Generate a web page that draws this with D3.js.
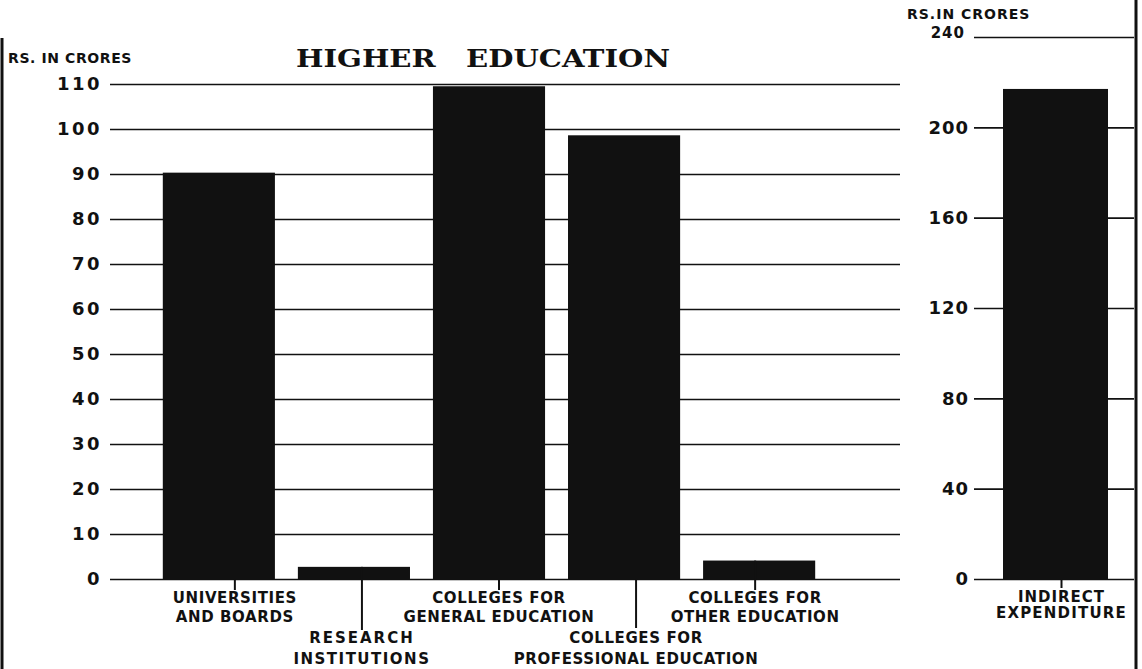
<!DOCTYPE html>
<html>
<head>
<meta charset="utf-8">
<script src="https://cdn.jsdelivr.net/npm/d3@7"></script>
<style>
  body { margin: 0; background: #fff; }
  svg { display: block; }
  .lbl { font-family: "DejaVu Sans", sans-serif; font-weight: bold; font-size: 15px; letter-spacing: 0.6px; fill: #111; }
</style>
</head>
<body>
<svg width="1142" height="669"></svg>
<script>
// left panel data (Rs. in crores)
var categories = [
    ['UNIVERSITIES', 'AND BOARDS'],
    ['RESEARCH', 'INSTITUTIONS'],
    ['COLLEGES FOR', 'GENERAL EDUCATION'],
    ['COLLEGES FOR', 'PROFESSIONAL EDUCATION'],
    ['COLLEGES FOR', 'OTHER EDUCATION']
];
var values = [90.3, 2.7, 109.5, 98.6, 4.1];
var leftTicks = [0, 10, 20, 30, 40, 50, 60, 70, 80, 90, 100, 110];

// right panel data
var rightCategories = [['INDIRECT', 'EXPENDITURE']];
var rightValues = [217];
var rightTicks = [0, 40, 80, 120, 160, 200, 240];

//label layout: row 0 = just under the axis, 1 = second row; shift from bar centre
var labelRow = [0, 1, 0, 1, 0];
var labelShift = [16, 8, 10, 12, -4];

var svg = d3.select('svg');
var ink = '#111';

var baseY = 579;

//scales
var yLeft = d3.scaleLinear().domain([0, 110]).range([baseY, 84]);
var yRight = d3.scaleLinear().domain([0, 240]).range([baseY, 37]);

var xLeft = d3.scaleBand()
    .domain(d3.range(values.length))
    .range([152, 826])
    .paddingInner(0.17)
    .paddingOuter(0.08);

var xRight = d3.scaleBand()
    .domain(d3.range(rightValues.length))
    .range([1003, 1108])
    .padding(0);

//left axis gridlines
var leftAxis = d3.axisLeft(yLeft)
    .tickValues(leftTicks)
    .tickSize(-(900 - 110))
    .tickPadding(8)
    .tickFormat(d3.format('d'));

var gL = svg.append('g')
    .attr('transform', 'translate(110,0)')
    .call(leftAxis);
gL.select('.domain').remove();
gL.selectAll('line').attr('stroke', ink).attr('stroke-width', 1.6);
gL.selectAll('text')
    .style('font-family', '"DejaVu Sans", sans-serif')
    .style('font-weight', 'bold')
    .style('font-size', '18px')
    .style('letter-spacing', '2.5px')
    .attr('fill', ink);

//right axis gridlines
var rightAxis = d3.axisLeft(yRight)
    .tickValues(rightTicks)
    .tickSize(-(1134 - 974))
    .tickPadding(5)
    .tickFormat(d3.format('d'));

var gR = svg.append('g')
    .attr('transform', 'translate(974,0)')
    .call(rightAxis);
gR.select('.domain').remove();
gR.selectAll('line').attr('stroke', ink).attr('stroke-width', 1.6);
gR.selectAll('text')
    .style('font-family', '"DejaVu Sans", sans-serif')
    .style('font-weight', 'bold')
    .style('font-size', '18px')
    .style('letter-spacing', '1px')
    .attr('fill', ink);
//top tick label sits just above its line, smaller
gR.selectAll('.tick').filter(function(d) { return d === 240; })
    .select('text')
    .style('font-size', '15px')
    .attr('dy', '0.05em')
    .attr('dx', '-4px');

//bars
svg.append('g').selectAll('rect')
    .data(values)
    .enter()
    .append('rect')
    .attr('x', function(d, i) { return xLeft(i); })
    .attr('y', function(d) { return yLeft(d); })
    .attr('width', xLeft.bandwidth())
    .attr('height', function(d) { return baseY - yLeft(d); })
    .attr('fill', ink);

svg.append('g').selectAll('rect')
    .data(rightValues)
    .enter()
    .append('rect')
    .attr('x', function(d, i) { return xRight(i); })
    .attr('y', function(d) { return yRight(d); })
    .attr('width', xRight.bandwidth())
    .attr('height', function(d) { return baseY - yRight(d); })
    .attr('fill', ink);

//leader ticks and category labels
var labelG = svg.append('g');
categories.forEach(function(c, i) {
    var cx = xLeft(i) + xLeft.bandwidth() / 2 + labelShift[i];
    var row = labelRow[i];
    var top = values[i] < 10 ? yLeft(values[i]) : baseY;
    labelG.append('line')
        .attr('x1', cx).attr('x2', cx)
        .attr('y1', top)
        .attr('y2', row === 0 ? baseY + 11 : (i === 1 ? 630 : 628))
        .attr('stroke', ink)
        .attr('stroke-width', 2);
    var y0 = row === 0 ? 603 : 643;
    labelG.append('text').attr('class', 'lbl')
        .attr('x', cx).attr('y', y0)
        .attr('text-anchor', 'middle')
        .style('letter-spacing', row === 1 && i === 1 ? '2px' : null)
        .text(c[0]);
    labelG.append('text').attr('class', 'lbl')
        .attr('x', cx).attr('y', y0 + (row === 0 ? 19 : 21))
        .attr('text-anchor', 'middle')
        .style('letter-spacing', row === 1 && i === 1 ? '1.5px' : null)
        .text(c[1]);
});

rightCategories.forEach(function(c, i) {
    var cx = xRight(i) + xRight.bandwidth() / 2 + 6;
    labelG.append('line')
        .attr('x1', cx).attr('x2', cx)
        .attr('y1', baseY).attr('y2', baseY + 9)
        .attr('stroke', ink).attr('stroke-width', 2);
    labelG.append('text').attr('class', 'lbl')
        .attr('x', cx).attr('y', 602)
        .attr('text-anchor', 'middle')
        .style('letter-spacing', '1px')
        .text(c[0]);
    labelG.append('text').attr('class', 'lbl')
        .attr('x', cx).attr('y', 618)
        .attr('text-anchor', 'middle')
        .style('letter-spacing', '1.2px')
        .text(c[1]);
});

//title and unit labels
svg.append('text')
    .attr('x', 483)
    .attr('y', 67)
    .attr('text-anchor', 'middle')
    .attr('textLength', 374)
    .attr('lengthAdjust', 'spacingAndGlyphs')
    .style('white-space', 'pre')
    .style('font-family', '"DejaVu Serif", serif')
    .style('font-weight', 'bold')
    .style('font-size', '24px')
    .attr('fill', ink)
    .text('HIGHER   EDUCATION');

svg.append('text')
    .attr('x', 8).attr('y', 63)
    .attr('class', 'lbl')
    .style('font-size', '14px')
    .style('letter-spacing', '0.6px')
    .text('RS. IN CRORES');

svg.append('text')
    .attr('x', 907).attr('y', 19)
    .attr('class', 'lbl')
    .style('font-size', '14px')
    .style('letter-spacing', '1px')
    .text('RS.IN CRORES');

//scanned frame edges
svg.append('line')
    .attr('x1', 2).attr('x2', 2).attr('y1', 38).attr('y2', 669)
    .attr('stroke', ink).attr('stroke-width', 3);
svg.append('line')
    .attr('x1', 1136).attr('x2', 1136).attr('y1', 0).attr('y2', 669)
    .attr('stroke', ink).attr('stroke-width', 3);
</script>
</body>
</html>
